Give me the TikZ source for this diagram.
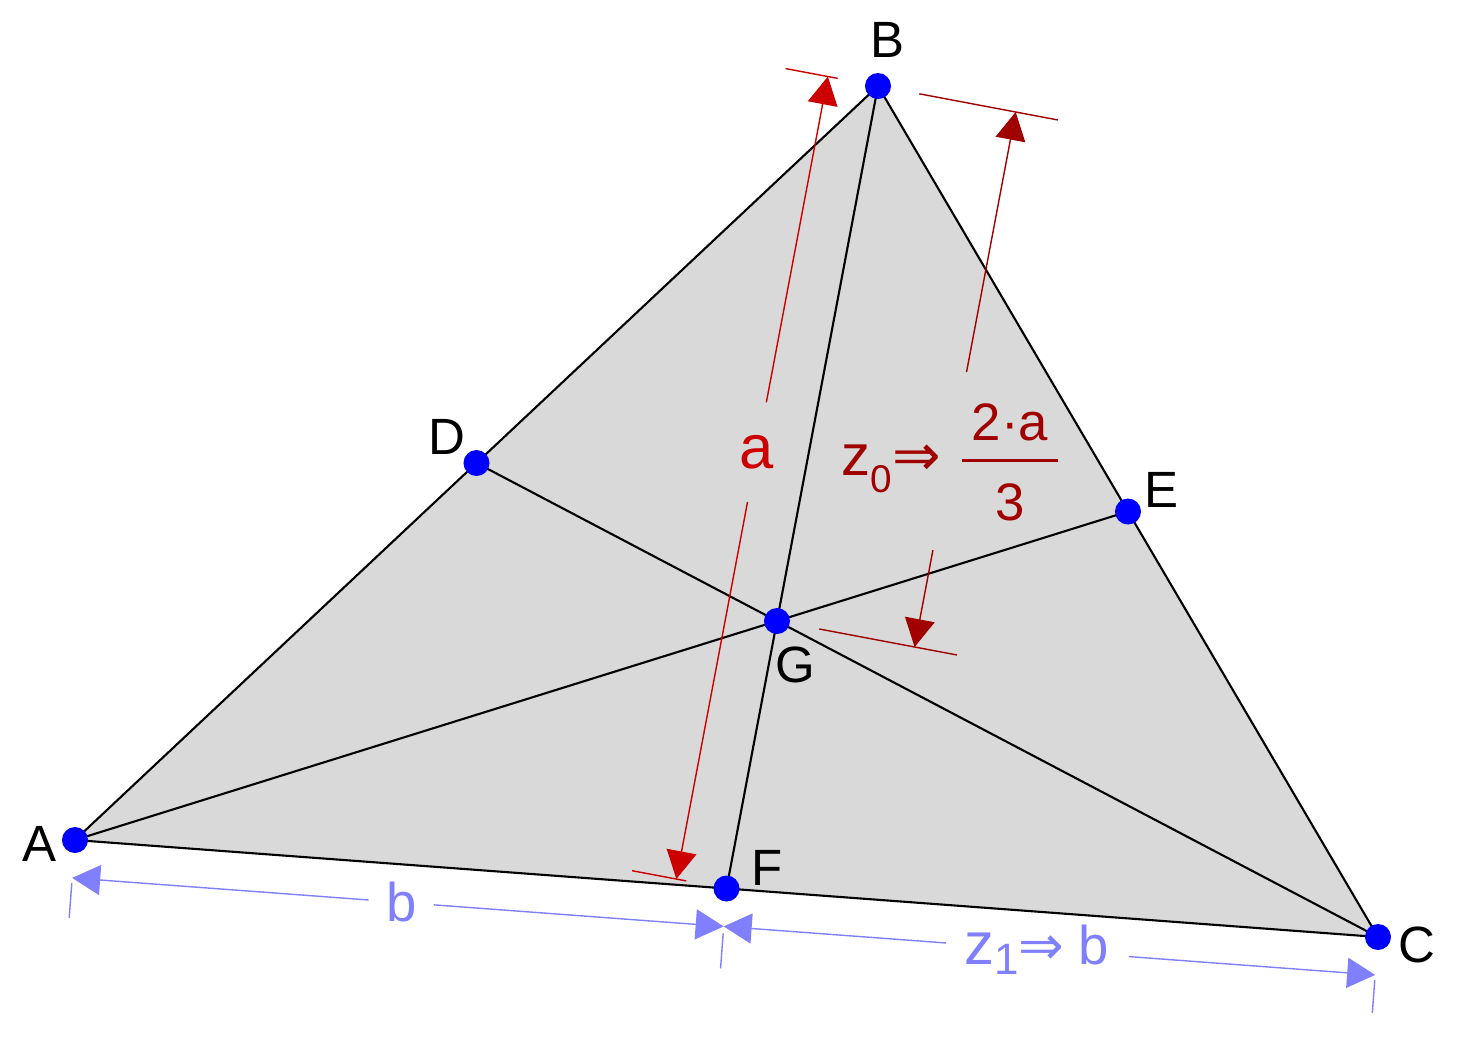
\documentclass[tikz,border=0pt]{standalone}
\usepackage{fontspec}
\setmainfont{Liberation Sans}
\newfontfamily\arrowfont{DejaVu Sans}
\usetikzlibrary{calc,arrows.meta}
\definecolor{dimred}{RGB}{204,0,0}
\definecolor{darkred}{RGB}{160,0,0}
\definecolor{dimblue}{RGB}{128,128,255}
\definecolor{facegray}{RGB}{217,217,217}

\begin{document}
\begin{tikzpicture}[x=0.01cm,y=-0.01cm,
    edge/.style={line width=0.6pt},
    vdot/.style={circle,fill=blue,inner sep=0pt,minimum size=0.26cm},
    vlabel/.style={font=\fontsize{14.5}{17}\selectfont},
    extline/.style={line width=0.4pt},
    dimline/.style={line width=0.4pt,-{Triangle[length=2.8mm,width=3mm]}}]
  \useasboundingbox (0,0) rectangle (1465,1044);
  \coordinate (A) at (75,840);
  \coordinate (B) at (878,86);
  \coordinate (C) at (1378,937);
  \coordinate (D) at ($(A)!0.5!(B)$);
  \coordinate (E) at ($(B)!0.5!(C)$);
  \coordinate (F) at ($(A)!0.5!(C)$);
  \coordinate (G) at ($(A)!2/3!(E)$);

  \filldraw[edge,fill=facegray] (A) -- (B) -- (C) -- cycle;
  \draw[edge] (A) -- (E) (B) -- (F) (C) -- (D);

  % dimension a
  \coordinate (Fa) at ($(F)!0.51cm!90:(B)$);
  \coordinate (Ba) at ($(B)!0.51cm!-90:(F)$);
  \coordinate (Fa1) at ($(F)!0.41cm!90:(B)$);
  \coordinate (Fa2) at ($(F)!0.96cm!90:(B)$);
  \coordinate (Ba1) at ($(B)!0.41cm!-90:(F)$);
  \coordinate (Ba2) at ($(B)!0.94cm!-90:(F)$);
  \draw[dimred,extline] (Fa1) -- (Fa2) (Ba1) -- (Ba2);
  \draw[dimred,dimline] ($(Fa)!0.594!(Ba)$) -- (Ba);
  \draw[dimred,dimline] ($(Fa)!0.47!(Ba)$) -- (Fa);
  \node[dimred,font=\fontsize{17.5}{20}\selectfont] (la) at ($(Fa)!0.532!(Ba)$) {a};

  % dimension 2a/3
  \coordinate (Gc) at ($(G)!1.40cm!-90:(B)$);
  \coordinate (Bc) at ($(B)!1.40cm!90:(G)$);
  \coordinate (Gc1) at ($(G)!0.43cm!-90:(B)$);
  \coordinate (Gc2) at ($(G)!1.83cm!-90:(B)$);
  \coordinate (Bc1) at ($(B)!0.42cm!90:(G)$);
  \coordinate (Bc2) at ($(B)!1.83cm!90:(G)$);
  \draw[darkred,extline] (Gc1) -- (Gc2) (Bc1) -- (Bc2);
  \draw[darkred,dimline] ($(Gc)!0.514!(Bc)$) -- (Bc);
  \draw[darkred,dimline] ($(Gc)!0.181!(Bc)$) -- (Gc);
  \node[darkred,yshift=-0.08cm] (lz) at ($(Gc)!0.35!(Bc)$)
    {\raisebox{1.4pt}{\fontsize{16.5}{19}\selectfont z\raisebox{-4.8pt}{\fontsize{11}{13}\selectfont 0}{\arrowfont ⇒}}\hspace{6pt}%
     \fontsize{15}{18}\selectfont\setlength\arrayrulewidth{0.9pt}%
     \begin{tabular}{@{\hspace{2.8pt}}c@{\hspace{2.8pt}}}2·a\\\hline\rule{0pt}{16.5pt}3\end{tabular}};

  % dimensions b
  \coordinate (Ab) at ($(A)!0.38cm!-90:(C)$);
  \coordinate (Fb) at ($(F)!0.38cm!-90:(C)$);
  \coordinate (Cb) at ($(C)!0.38cm!90:(A)$);
  \coordinate (Ab1) at ($(A)!0.43cm!-90:(C)$);
  \coordinate (Ab2) at ($(A)!0.78cm!-90:(C)$);
  \coordinate (Fb1) at ($(F)!0.45cm!-90:(C)$);
  \coordinate (Fb2) at ($(F)!0.80cm!-90:(C)$);
  \coordinate (Cb1) at ($(C)!0.43cm!90:(A)$);
  \coordinate (Cb2) at ($(C)!0.76cm!90:(A)$);
  \draw[dimblue,extline] (Ab1) -- (Ab2) (Fb1) -- (Fb2) (Cb1) -- (Cb2);
  \draw[dimblue,dimline] ($(Ab)!0.455!(Fb)$) -- (Ab);
  \draw[dimblue,dimline] ($(Ab)!0.555!(Fb)$) -- (Fb);
  \draw[dimblue,dimline] ($(Fb)!0.341!(Cb)$) -- (Fb);
  \draw[dimblue,dimline] ($(Fb)!0.622!(Cb)$) -- (Cb);
  \node[dimblue,font=\fontsize{15.5}{18}\selectfont] (lb) at ($(Ab)!0.505!(Fb)$) {b};
  \node[dimblue,font=\fontsize{15.5}{18}\selectfont] (lzb) at ($(Fb)!0.48!(Cb)$)
    {{\fontsize{17}{20}\selectfont z}\raisebox{-3pt}{\fontsize{12.5}{14}\selectfont 1}{\arrowfont ⇒}\hspace{4pt}b};

  % points
  \foreach \p/\dx/\dy in {A/-35/4, B/10/-46, C/39/8, D/-30/-26, E/34/-22, F/41/-21, G/18/44}{
    \node[vdot] (d\p) at (\p) {};
    \node[vlabel] (l\p) at ($(\p)+(\dx,\dy)$) {\p};
  }
\end{tikzpicture}
\end{document}
